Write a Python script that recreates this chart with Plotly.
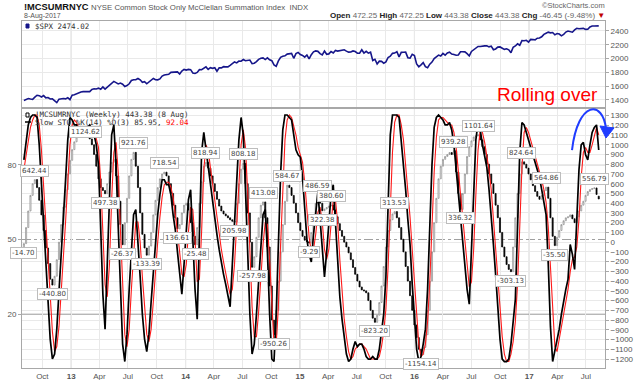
import pandas as pd
import plotly.graph_objects as go

# ---------------- data (weekly) ----------------
weeks = pd.date_range("2012-08-03", periods=263, freq="7D")

spx_close = [
    1391, 1405, 1418, 1411, 1407, 1438, 1466, 1460, 1441, 1461, 1428, 1433, 1411, 1414, 1380, 1359, 1409, 1416, 1418, 1413, 1430, 1402,
    1466, 1472, 1486, 1503, 1513, 1518, 1520, 1516, 1518, 1551, 1561, 1556, 1569, 1553, 1588, 1555, 1582, 1614, 1633, 1667, 1650, 1631,
    1643, 1626, 1593, 1606, 1632, 1680, 1692, 1691, 1710, 1691, 1655, 1664, 1633, 1655, 1688, 1710, 1692, 1690, 1703, 1745, 1760, 1762,
    1771, 1798, 1804, 1806, 1805, 1775, 1818, 1841,
    1831, 1842, 1838, 1790, 1783, 1797, 1838, 1836, 1859, 1878, 1841, 1866, 1857, 1865, 1815, 1864, 1863, 1881, 1878, 1878, 1900, 1924,
    1950, 1936, 1963, 1961, 1985, 1968, 1978, 1978, 1925, 1931, 1955, 1988, 2003, 2008, 1985, 2010, 1982, 1968, 1906, 1887, 1965, 2018,
    2032, 2039, 2064, 2068, 2075, 2003, 2071, 2089,
    2058, 2045, 2019, 2051, 1995, 2055, 2097, 2110, 2104, 2071, 2053, 2108, 2061, 2067, 2102, 2081, 2117, 2108, 2116, 2123, 2126, 2107,
    2092, 2094, 2110, 2101, 2077, 2077, 2127, 2079, 2104, 2078, 2092, 1971, 1989, 1921, 1961, 1958, 1932, 1951, 2015, 2033, 2075, 2079,
    2099, 2023, 2089, 2090, 2092, 2012, 2006, 2061,
    2044, 1922, 1880, 1907, 1940, 1880, 1865, 1918, 1948, 2000, 2022, 2050, 2035, 2073, 2048, 2081, 2092, 2065, 2057, 2047, 2052, 2099,
    2099, 2096, 2071, 2037, 2103, 2130, 2162, 2175, 2174, 2183, 2184, 2184, 2169, 2180, 2128, 2139, 2165, 2168, 2153, 2133, 2141, 2126,
    2085, 2164, 2182, 2213, 2192, 2260, 2258, 2264, 2239,
    2277, 2275, 2271, 2295, 2297, 2316, 2351, 2367, 2383, 2373, 2378, 2344, 2363, 2355, 2329, 2349, 2384, 2399, 2391, 2382, 2416, 2439,
    2432, 2433, 2438, 2423, 2425, 2459, 2473, 2472, 2476, 2474.02,
]

mcsum_close = [
    -14.70, 150, 320, 480, 600, 642.44, 560, 430, 280, 120,
    -60, -220, -380, -440.80, -350, -180, 0, 180, 360, 540,
    700, 840, 950, 1030, 1080, 1100, 1090, 1110, 1124.62, 1110,
    1060, 1000, 900, 780, 650, 560, 530, 497.38, 600, 720,
    820, 850, 680, 420, 180, -26.37, 200, 450, 680, 850,
    921.76, 780, 560, 300, 80, -60, -133.39, -40, 100, 280,
    430, 560, 650, 700, 718.54, 680, 600, 500, 380, 250,
    136.61, 180, 300, 380, 400, 330, 200, 60, -25.48, 150,
    400, 620, 780, 818.94, 760, 680, 600, 520, 440, 370,
    320, 290, 270, 250, 230, 215, 205.98, 400, 600, 750,
    808.18, 600, 300, 0, -257.98, -150, 50, 250, 380, 413.08,
    250, -50, -450, -800, -950.26, -700, -400, -100, 180, 420,
    584.67, 560, 480, 400, 300, 200, 120, 60, 20, 5,
    -9.29, 100, 250, 400, 486.59, 400, 322.38, 340, 355, 370,
    380.60, 330, 260, 190, 120, 60, 0, -50, -110, -180,
    -260, -330, -400, -460, -490, -500, -520, -600, -700, -780,
    -823.20, -750, -620, -450, -250, -50, 120, 230, 290, 313.53,
    250, 150, 30, -100, -250, -400, -550, -700, -850, -980,
    -1100, -1154.14, -1080, -950, -700, -400, -100, 200, 450, 650,
    780, 850, 880, 900, 920, 900, 939.28, 720, 500, 336.32,
    500, 700, 880, 980, 1040, 1080, 1090, 1101.64, 1050, 980,
    900, 800, 700, 600, 500, 380, 250, 100, -50, -150,
    -230, -280, -303.13, -50, 250, 500, 700, 824.64, 800, 760,
    700, 640, 580, 520, 470, 440, 480, 530, 564.86, 450,
    250, 60, -35.50, 50, 120, 180, 220, 250, 260, 280,
    240, 200, 260, 320, 380, 420, 480, 520, 540, 550,
    556.79, 489.83, 443.38,
]
mcsum_last_open = 472.25

sto_k = [
    82, 90, 96, 99, 100, 100, 99, 88, 72, 56,
    42, 26, 10, 2, 4, 14, 28, 42, 56, 74,
    90, 99, 98, 96, 96, 93, 95, 94, 93, 95,
    96, 94, 92, 88, 80, 55, 28, 14, 40, 66,
    92, 96, 80, 55, 28, 8, 1, 12, 30, 48,
    60, 62, 50, 35, 20, 10, 5, 12, 25, 38,
    50, 60, 68, 74, 74, 72, 72, 68, 60, 54,
    45, 36, 28, 40, 52, 66, 70, 50, 30, 18,
    55, 85, 93, 86, 78, 73, 66, 58, 52, 46,
    40, 36, 32, 28, 23, 40, 58, 75, 90, 99,
    92, 70, 45, 20, 4, 8, 20, 35, 50, 60,
    62, 45, 20, 2, 1, 20, 48, 76, 94, 100,
    100, 99, 98, 92, 86, 84, 83, 75, 60, 50,
    44, 41, 52, 62, 69, 58, 45, 35, 45, 58,
    68, 72, 58, 40, 27, 18, 10, 4, 1, 2,
    6, 9, 7, 8, 8, 6, 3, 2, 2, 3,
    2, 2, 6, 12, 20, 35, 62, 92, 100, 100,
    100, 99, 90, 80, 70, 58, 48, 32, 18, 6,
    1, 3, 8, 14, 30, 55, 80, 95, 99, 100,
    99, 98, 96, 96, 97, 94, 88, 78, 68, 58,
    50, 40, 30, 24, 45, 70, 90, 97, 94, 88,
    84, 79, 70, 60, 48, 36, 22, 10, 2, 1,
    1, 2, 8, 16, 26, 55, 85, 97, 96, 93,
    90, 87, 84, 80, 77, 75, 70, 65, 60, 40,
    15, 1, 5, 10, 14, 20, 26, 30, 34, 48,
    44, 38, 58, 78, 88, 89, 84, 82, 88, 93,
    95, 96, 85.95,
]

sto_d = [
    78, 84, 89, 95, 98, 100, 100, 96, 86, 72,
    57, 41, 26, 13, 5, 7, 15, 28, 42, 57,
    73, 88, 96, 98, 97, 95, 95, 94, 94, 94,
    95, 95, 94, 91, 87, 74, 54, 32, 27, 40,
    66, 85, 89, 77, 54, 30, 12, 7, 14, 30,
    46, 57, 57, 49, 35, 22, 12, 9, 14, 25,
    38, 49, 59, 67, 72, 73, 73, 71, 67, 61,
    53, 45, 36, 35, 40, 53, 63, 62, 50, 33,
    34, 53, 78, 88, 86, 79, 72, 66, 59, 52,
    46, 41, 36, 32, 28, 30, 40, 58, 74, 88,
    94, 87, 69, 45, 23, 11, 11, 21, 35, 48,
    57, 56, 42, 22, 8, 8, 23, 48, 73, 90,
    98, 100, 99, 96, 92, 87, 84, 81, 73, 62,
    51, 45, 46, 52, 61, 63, 57, 46, 42, 46,
    57, 66, 66, 57, 42, 28, 18, 11, 5, 2,
    3, 6, 7, 8, 8, 7, 6, 4, 2, 2,
    2, 2, 3, 7, 13, 22, 39, 63, 85, 97,
    100, 100, 96, 90, 80, 69, 59, 46, 33, 19,
    8, 3, 4, 8, 17, 33, 55, 77, 91, 98,
    99, 99, 98, 97, 96, 96, 93, 87, 78, 68,
    59, 49, 40, 31, 33, 46, 68, 86, 94, 93,
    89, 84, 78, 70, 59, 48, 35, 23, 11, 4,
    1, 1, 4, 9, 17, 32, 55, 79, 93, 95,
    93, 90, 87, 84, 80, 77, 74, 70, 65, 55,
    38, 19, 7, 5, 10, 15, 20, 25, 30, 37,
    42, 43, 47, 58, 75, 85, 87, 85, 85, 88,
    92, 95, 92.04,
]

# pivot labels: (week index, side)
label_idx = [0, 5, 13, 28, 37, 45, 50, 56, 64, 70, 78, 83, 96, 100, 104, 109, 114, 120,
             130, 134, 136, 140, 160, 169, 181, 196, 199, 207, 222, 227, 238, 242, 260]
label_side = ["b", "t", "b", "t", "b", "b", "t", "b", "t", "b", "b", "t", "b", "t", "b", "t", "b", "t",
              "b", "t", "b", "t", "b", "t", "b", "t", "b", "t", "b", "t", "t", "b", "t"]

quarter_ticks = pd.date_range("2012-10-01", "2017-07-01", freq="QS")
quarter_text = []
for d in quarter_ticks:
    if d.month == 1:
        quarter_text.append("<b>%02d</b>" % (d.year % 100))
    else:
        quarter_text.append(d.strftime("%b"))
year_lines = ["2013-01-01", "2014-01-01", "2015-01-01", "2016-01-01", "2017-01-01"]

# ---------------- figure ----------------
W, H = 640, 380
ML, MR, MT, MB = 22, 35, 21, 12
PW, PH = W - ML - MR, H - MT - MB


def px(x):
    return (x - ML) / PW


def py(y):
    return (H - MB - y) / PH


TOP_DOM = [py(107), 1]
BOT_DOM = [0, py(109)]
XR = ["2012-07-28", "2017-08-31"]

mc_open = [-60.0] + mcsum_close[:-1]
mc_open[-1] = mcsum_last_open
mc_high = [max(o, c) for o, c in zip(mc_open, mcsum_close)]
mc_low = [min(o, c) for o, c in zip(mc_open, mcsum_close)]

fig = go.Figure()
fig.add_trace(go.Scatter(x=weeks, y=spx_close, xaxis="x", yaxis="y", mode="lines",
                         line=dict(color="#16168a", width=1.6), hoverinfo="skip"))
fig.add_trace(go.Candlestick(x=weeks, open=mc_open, high=mc_high, low=mc_low, close=mcsum_close,
                             xaxis="x2", yaxis="y2", whiskerwidth=0,
                             increasing=dict(line=dict(color="#8a8a8a", width=0.7), fillcolor="white"),
                             decreasing=dict(line=dict(color="black", width=0.7), fillcolor="black")))
fig.add_trace(go.Scatter(x=weeks, y=sto_d, xaxis="x2", yaxis="y3", mode="lines",
                         line=dict(color="#ff1a1a", width=1.1)))
fig.add_trace(go.Scatter(x=weeks, y=sto_k, xaxis="x2", yaxis="y3", mode="lines",
                         line=dict(color="black", width=1.7)))

axis_common = dict(showline=True, mirror=True, linecolor="#a8a8a8", linewidth=1,
                   gridcolor="#e9e9e9", gridwidth=1, zeroline=False, automargin=False)
tickfont = dict(family="Liberation Sans, Arial", size=8, color="#555")

fig.update_layout(
    width=W, height=H, margin=dict(l=ML, r=MR, t=MT, b=MB, autoexpand=False),
    paper_bgcolor="white", plot_bgcolor="white", showlegend=False,
    xaxis=dict(domain=[0, 1], anchor="y", range=XR, tickvals=quarter_ticks, showticklabels=False,
               ticks="", **axis_common),
    xaxis2=dict(domain=[0, 1], anchor="y2", range=XR, tickvals=quarter_ticks, ticktext=quarter_text,
                ticks="", tickfont=tickfont, rangeslider=dict(visible=False), **axis_common),
    yaxis=dict(domain=TOP_DOM, anchor="x", side="right", range=[1295, 2545],
               tickvals=list(range(1400, 2401, 200)), ticks="outside", ticklen=3, tickcolor="#a8a8a8",
               tickfont=tickfont, **axis_common),
    yaxis2=dict(domain=BOT_DOM, anchor="x2", side="right", range=[-1292, 1367],
                tickvals=list(range(-1200, 1301, 100)), ticks="outside", ticklen=3, tickcolor="#a8a8a8",
                tickfont=tickfont, **axis_common),
    yaxis3=dict(overlaying="y2", anchor="x2", side="left", range=[-1.6, 102.4],
                tickvals=[20, 50, 80], ticks="outside", ticklen=3, tickcolor="#a8a8a8",
                tickfont=tickfont, showgrid=False, zeroline=False, showline=False, automargin=False),
)

shapes = []
for d in year_lines:
    shapes.append(dict(type="line", xref="x2", yref="paper", x0=d, x1=d, y0=0, y1=BOT_DOM[1],
                       line=dict(color="#c4c4c4", width=1), layer="below"))
    shapes.append(dict(type="line", xref="x", yref="paper", x0=d, x1=d, y0=TOP_DOM[0], y1=1,
                       line=dict(color="#c4c4c4", width=1), layer="below"))
for lv in (80, 20):
    shapes.append(dict(type="line", xref="paper", yref="y3", x0=0, x1=1, y0=lv, y1=lv,
                       line=dict(color="#9a9a9a", width=1), layer="below"))
shapes.append(dict(type="line", xref="paper", yref="y3", x0=0, x1=1, y0=50, y1=50,
                   line=dict(color="#a0a0a0", width=1, dash="dashdot"), layer="below"))


def P(x, y):
    return "%.4f,%.4f" % (px(x), py(y))


# blue curved arrow (decoration)
shapes.append(dict(type="path", xref="paper", yref="paper",
                   path="M %s C %s %s %s" % (P(572, 150), P(578, 100), P(603, 100), P(606, 129)),
                   line=dict(color="#1f3cff", width=2)))
shapes.append(dict(type="path", xref="paper", yref="paper",
                   path="M %s L %s L %s Z" % (P(600, 126), P(614, 128), P(606, 138)),
                   line=dict(color="#1f3cff", width=1), fillcolor="#1f3cff"))
# legend icons
shapes.append(dict(type="line", xref="paper", yref="paper", x0=px(25), x1=px(31), y0=py(122), y1=py(122),
                   line=dict(color="black", width=1.5)))
shapes.append(dict(type="rect", xref="paper", yref="paper", x0=px(26), x1=px(29), y0=py(113), y1=py(117),
                   line=dict(color="black", width=1), fillcolor="white"))
shapes.append(dict(type="rect", xref="paper", yref="paper", x0=px(26), x1=px(29), y0=py(24), y1=py(28),
                   line=dict(color="#16168a", width=1), fillcolor="#16168a"))
fig.update_layout(shapes=shapes)

ann = []
lab_font = dict(family="DejaVu Sans", size=7, color="#444")
for i, side in zip(label_idx, label_side):
    v = mcsum_close[i]
    shift = 3 if side == "t" else -3
    if i == 28:
        shift = -5
    ann.append(dict(x=weeks[i], y=v, xref="x2", yref="y2", text="%.2f" % v, showarrow=False,
                    font=lab_font, bgcolor="white", bordercolor="#bdbdbd", borderwidth=1, borderpad=1,
                    xanchor="center", yanchor="bottom" if side == "t" else "top", yshift=shift))

hdr = dict(family="Liberation Sans, Arial", size=8, color="#666")
ann += [
    dict(x=px(22), y=py(7), xref="paper", yref="paper", xanchor="left", yanchor="middle", showarrow=False,
         text="<b>!MCSUMRNYC</b>", font=dict(family="Liberation Sans, Arial", size=9.3, color="#111")),
    dict(x=px(89), y=py(7.5), xref="paper", yref="paper", xanchor="left", yanchor="middle", showarrow=False,
         text="NYSE Common Stock Only McClellan Summation Index  INDX",
         font=dict(family="Liberation Sans, Arial", size=7.8, color="#555")),
    dict(x=px(22), y=py(16), xref="paper", yref="paper", xanchor="left", yanchor="middle", showarrow=False,
         text="8-Aug-2017", font=dict(family="Liberation Sans, Arial", size=7.0, color="#555")),
    dict(x=px(607), y=py(6), xref="paper", yref="paper", xanchor="right", yanchor="middle", showarrow=False,
         text="\u00a9StockCharts.com", font=dict(family="Liberation Sans, Arial", size=7.5, color="#666")),
    dict(x=px(607), y=py(15.5), xref="paper", yref="paper", xanchor="right", yanchor="middle", showarrow=False,
         text=("<b style='color:#222'>Open</b> 472.25 <b style='color:#222'>High</b> 472.25 "
               "<b style='color:#222'>Low</b> 443.38 <b style='color:#222'>Close</b> 443.38 "
               "<b style='color:#222'>Chg</b> -46.45 (-9.48%) <span style='color:#c00000'>\u25bc</span>"),
         font=hdr),
    dict(x=px(33), y=py(26.5), xref="paper", yref="paper", xanchor="left", yanchor="middle", showarrow=False,
         text="$SPX 2474.02", font=dict(family="DejaVu Sans Mono", size=7.5, color="#333")),
    dict(x=px(33), y=py(114.5), xref="paper", yref="paper", xanchor="left", yanchor="middle", showarrow=False,
         text="!MCSUMRNYC (Weekly) 443.38 (8 Aug)", font=dict(family="DejaVu Sans Mono", size=7.5, color="#333")),
    dict(x=px(33), y=py(122), xref="paper", yref="paper", xanchor="left", yanchor="middle", showarrow=False,
         text="Slow STO %K(14) %D(3) 85.95, <span style='color:red'>92.04</span>",
         font=dict(family="DejaVu Sans Mono", size=7.5, color="#333")),
    dict(x=px(547.5), y=py(94), xref="paper", yref="paper", xanchor="center", yanchor="middle", showarrow=False,
         text="Rolling over", font=dict(family="Liberation Sans, Arial", size=19, color="#ff0000")),
]
fig.update_layout(annotations=ann)

fig.write_html("out.html", config={"displayModeBar": False},
               post_script="document.body.style.margin='0';document.body.style.padding='0';")
